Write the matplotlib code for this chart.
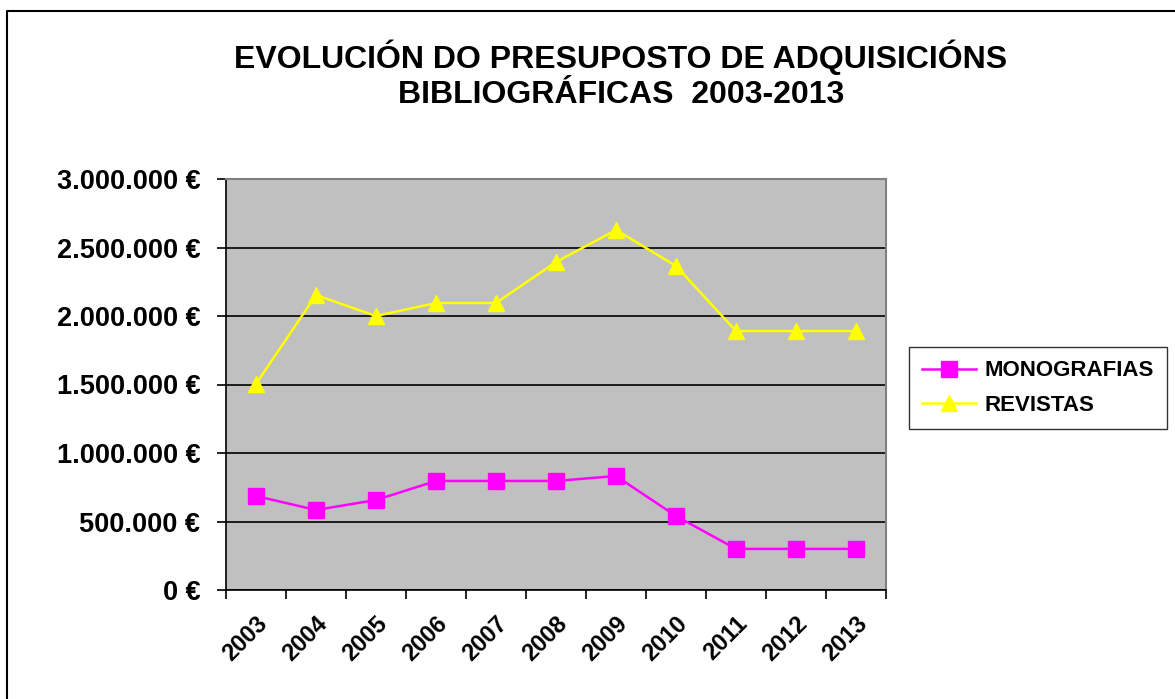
import matplotlib
matplotlib.use("Agg")
import matplotlib.pyplot as plt
from matplotlib.lines import Line2D
from matplotlib.ticker import FuncFormatter

years = ["2003", "2004", "2005", "2006", "2007", "2008", "2009", "2010", "2011", "2012", "2013"]
monografias = [686000, 584000, 657000, 796000, 796000, 796000, 832000, 540000, 300000, 300000, 300000]
revistas = [1504000, 2153000, 2000000, 2095000, 2095000, 2394000, 2628000, 2365000, 1890000, 1890000, 1890000]

plt.rcParams['font.family'] = ['Liberation Sans', 'DejaVu Sans']

fig = plt.figure(figsize=(11.75, 6.99), dpi=100)
ax = fig.add_axes([226/1175, 109/699, 660/1175, 411/699])
ax.set_facecolor('#c0c0c0')

x = list(range(len(years)))
ax.plot(x, monografias, color='#ff00ff', lw=1.8, marker='s', ms=11,
        label='MONOGRAFIAS', zorder=3)
ax.plot(x, revistas, color='#ffff00', lw=1.8, marker='^', ms=12,
        label='REVISTAS', zorder=3)

ax.set_xlim(-0.5, len(years) - 0.5)
ax.set_ylim(0, 3000000)
ax.set_yticks(range(0, 3000001, 500000))
ax.yaxis.set_major_formatter(FuncFormatter(
    lambda v, p: '{:,.0f} €'.format(v).replace(',', '.')))
ax.grid(axis='y', color='black', lw=1.2)
ax.set_axisbelow(True)

# tick marks at category boundaries, labels at the centres
ax.set_xticks([i - 0.5 for i in range(len(years) + 1)])
ax.set_xticklabels([])
ax.set_xticks(x, minor=True)
ax.set_xticklabels(years, minor=True, rotation=45, ha='right',
                   rotation_mode='anchor', fontsize=17, fontweight='bold')
ax.tick_params(axis='x', which='minor', length=0, pad=16)
ax.tick_params(axis='x', which='major', length=6.5, width=1.2, direction='out')
ax.tick_params(axis='y', length=6.5, width=1.2, labelsize=19.5, pad=12)
for lab in ax.get_yticklabels():
    lab.set_fontweight('bold')

for s in ['top', 'right']:
    ax.spines[s].set_color('#808080')
    ax.spines[s].set_linewidth(1.5)
for s in ['left', 'bottom']:
    ax.spines[s].set_color('black')
    ax.spines[s].set_linewidth(1.2)

fig.text(621/1175, 1 - 75/699,
         'EVOLUCIÓN DO PRESUPOSTO DE ADQUISICIÓNS\nBIBLIOGRÁFICAS  2003-2013',
         ha='center', va='center', fontsize=23, fontweight='bold',
         linespacing=1.2)

leg = fig.legend(loc='center left', bbox_to_anchor=(909/1175, 1 - 388/699),
                 prop={'weight': 'bold', 'size': 16},
                 frameon=True, fancybox=False, edgecolor='black',
                 handlelength=2.4, handletextpad=0.4, borderpad=0.6,
                 labelspacing=0.6, borderaxespad=0)
leg.get_frame().set_linewidth(1.0)

# chart border (right and bottom edges fall outside the picture)
fig.lines.append(Line2D([7/1175, 7/1175, 1.0], [0.0, 1 - 11/699, 1 - 11/699],
                        transform=fig.transFigure, color='black', lw=1.5))

fig.savefig('out.png', dpi=100)
